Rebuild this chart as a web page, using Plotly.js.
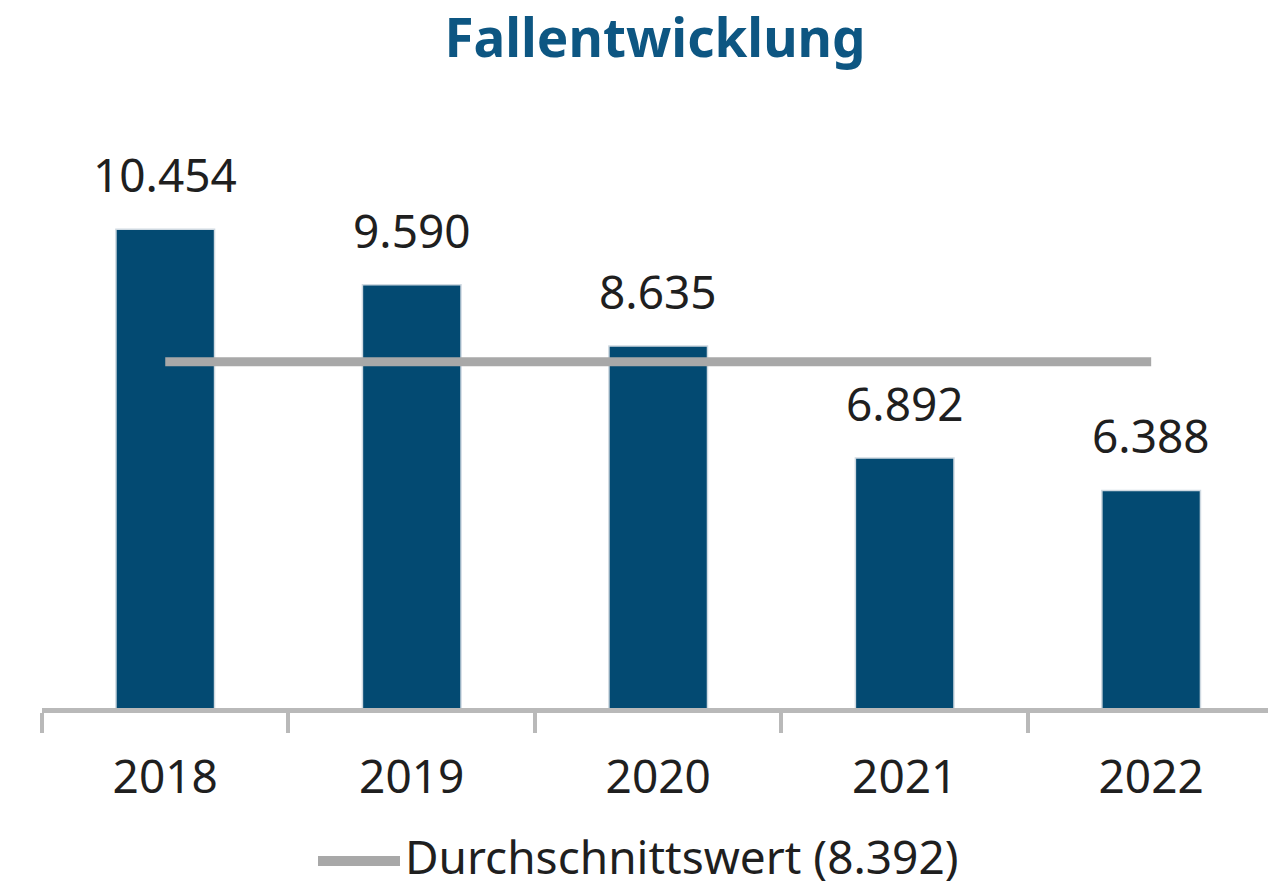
<!DOCTYPE html>
<html>
<head>
<meta charset="utf-8">
<script src="https://cdn.plot.ly/plotly-3.0.1.min.js"></script>
<style>html,body{margin:0;padding:0;background:#fff;}#chart{width:1268px;height:886px;}</style>
</head>
<body>
<div id="chart"></div>
<script>
// ---- data ----
const years = ['2018', '2019', '2020', '2021', '2022'];
const cases = [10454, 9590, 8635, 6892, 6388];
const averageValue = 8392;
const averageSeries = [8392, 8392, 8392, 8392, 8392];
const titleText = 'Fallentwicklung';
const legendText = 'Durchschnittswert (8.392)';

// ---- helpers ----
function deFormat(n) {
  return String(n).replace(/\B(?=(\d{3})+(?!\d))/g, '.');
}

const W = 1268, H = 886;
const M = {l: 42, r: 0, t: 130, b: 178};
const plotW = W - M.l - M.r, plotH = H - M.t - M.b;
const px2paperX = px => (px - M.l) / plotW;
const px2paperY = py => (H - M.b - py) / plotH;

const FONT = 'Noto Sans, Open Sans, sans-serif';
const TEXT = '#1f1f1f';

const bars = {
  type: 'bar',
  x: years,
  y: cases,
  marker: {color: '#034a72', line: {color: '#cfd9e1', width: 1.5}},
  hoverinfo: 'skip',
  showlegend: false
};

const avgLine = {
  type: 'scatter',
  mode: 'lines',
  x: years,
  y: averageSeries,
  line: {color: '#a8a8a8', width: 9},
  hoverinfo: 'skip',
  showlegend: false
};

// category index is used as annotation x (category axis)
const valueLabels = years.map((yr, i) => ({
  x: i, y: cases[i], xref: 'x', yref: 'y',
  text: deFormat(cases[i]),
  showarrow: false, yanchor: 'bottom', yshift: 22,
  font: {family: FONT, size: 46, color: TEXT}
}));

const layout = {
  width: W, height: H,
  margin: {l: M.l, r: M.r, t: M.t, b: M.b, pad: 0},
  paper_bgcolor: '#ffffff', plot_bgcolor: '#ffffff',
  title: {
    text: '<b>' + titleText + '</b>',
    font: {family: FONT, size: 53, color: '#0d5682'},
    xref: 'paper', x: 0.5, xanchor: 'center',
    yref: 'container', y: 0.957, yanchor: 'middle'
  },
  bargap: 0.6,
  showlegend: false,
  xaxis: {
    type: 'category',
    range: [-0.5, 4.474],
    showline: true, linecolor: '#b9b9b9', linewidth: 5,
    ticks: 'outside', tickson: 'boundaries', ticklen: 20, tickwidth: 4, tickcolor: '#b9b9b9',
    tickfont: {family: FONT, size: 46, color: TEXT},
    ticklabelstandoff: 25,
    showgrid: false, zeroline: false, fixedrange: true
  },
  yaxis: {
    range: [3000, 12000],
    visible: false, showgrid: false, zeroline: false, fixedrange: true
  },
  shapes: [{
    type: 'line', xref: 'paper', yref: 'paper',
    x0: px2paperX(318), x1: px2paperX(400),
    y0: px2paperY(861), y1: px2paperY(861),
    line: {color: '#a8a8a8', width: 10}
  }],
  annotations: valueLabels.concat([{
    xref: 'paper', yref: 'paper',
    x: px2paperX(403), y: px2paperY(856),
    xanchor: 'left', yanchor: 'middle',
    text: legendText, showarrow: false,
    font: {family: FONT, size: 46, color: TEXT}
  }])
};

Plotly.newPlot('chart', [bars, avgLine], layout, {staticPlot: true, displayModeBar: false});
</script>
</body>
</html>
